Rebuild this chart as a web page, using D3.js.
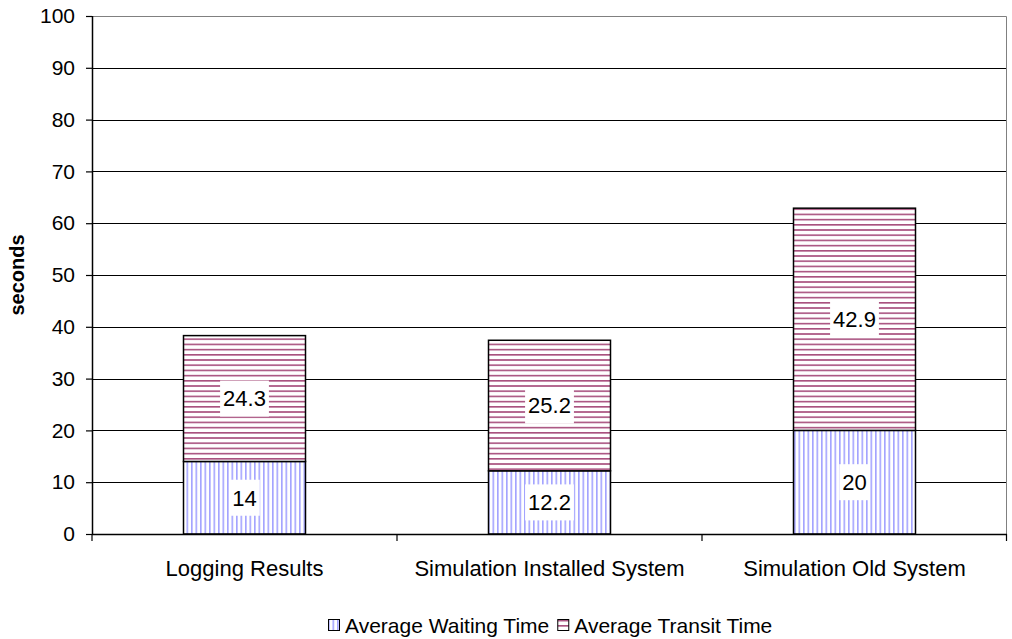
<!DOCTYPE html>
<html>
<head>
<meta charset="utf-8">
<script src="https://cdn.jsdelivr.net/npm/d3@7/dist/d3.min.js"></script>
<style>
  html, body { margin: 0; padding: 0; background: #fff; }
  svg { display: block; font-family: "Liberation Sans", Arial, sans-serif; }
</style>
</head>
<body>
<svg id="chart" width="1012" height="639"></svg>
<script>
// Chart data
const categories = ["Logging Results", "Simulation Installed System", "Simulation Old System"];
const waitingTime = [14, 12.2, 20];
const transitTime = [24.3, 25.2, 42.9];
const seriesNames = ["Average Waiting Time", "Average Transit Time"];
const yTicks = [0, 10, 20, 30, 40, 50, 60, 70, 80, 90, 100];

const FONT = "'Liberation Sans', Arial, sans-serif";
const svg = d3.select("#chart");
const margin = { left: 92, right: 5, top: 16, bottom: 105 };
const W = 1012, H = 639;
const plotW = W - margin.left - margin.right;
const plotH = H - margin.top - margin.bottom;

const defs = svg.append("defs");
// Vertical stripes for waiting time
const pv = defs.append("pattern").attr("id", "vstripe")
  .attr("patternUnits", "userSpaceOnUse").attr("width", 4.5).attr("height", 10);
pv.append("rect").attr("width", 4.5).attr("height", 10).attr("fill", "#fff");
pv.append("rect").attr("x", 0).attr("width", 1.6).attr("height", 10).attr("fill", "#a3a3ff");
// Horizontal stripes for transit time
const ph = defs.append("pattern").attr("id", "hstripe")
  .attr("patternUnits", "userSpaceOnUse").attr("width", 10).attr("height", 5.2);
ph.append("rect").attr("width", 10).attr("height", 5.2).attr("fill", "#fff");
ph.append("rect").attr("y", 0).attr("width", 10).attr("height", 1.6).attr("fill", "#a8507e");

const g = svg.append("g").attr("transform", `translate(${margin.left},${margin.top})`);

const x = d3.scaleBand().domain(categories).range([0, plotW]).paddingInner(0).paddingOuter(0);
const y = d3.scaleLinear().domain([0, 100]).range([plotH, 0]);
const barW = x.bandwidth() * 0.4;

// Gridlines
g.append("g").selectAll("line").data(yTicks.filter(t => t > 0 && t < 100)).join("line")
  .attr("x1", 0).attr("x2", plotW)
  .attr("y1", d => Math.round(y(d)) + 0.5).attr("y2", d => Math.round(y(d)) + 0.5)
  .attr("stroke", "#000").attr("stroke-width", 1);

// Plot border (top and right)
g.append("path")
  .attr("d", `M0,${Math.round(y(100)) + 0.5}H${plotW - 0.5}V${plotH}`)
  .attr("fill", "none").attr("stroke", "#808080").attr("stroke-width", 1);

// Stacked data
const stacks = categories.map((c, i) => ({
  cat: c,
  segs: [
    { key: 0, y0: 0, y1: waitingTime[i], v: waitingTime[i] },
    { key: 1, y0: waitingTime[i], y1: waitingTime[i] + transitTime[i], v: transitTime[i] }
  ]
}));
const fills = ["url(#vstripe)", "url(#hstripe)"];

const barG = g.append("g");
stacks.forEach(s => {
  const bx = x(s.cat) + (x.bandwidth() - barW) / 2;
  s.segs.forEach(sg => {
    barG.append("rect")
      .attr("x", bx).attr("width", barW)
      .attr("y", y(sg.y1)).attr("height", y(sg.y0) - y(sg.y1))
      .attr("fill", fills[sg.key]).attr("stroke", "#000").attr("stroke-width", 1.5);
  });
});

// Value labels
const lblG = g.append("g");
stacks.forEach(s => {
  const cx = x(s.cat) + x.bandwidth() / 2;
  s.segs.forEach(sg => {
    const cy = (y(sg.y0) + y(sg.y1)) / 2;
    const t = lblG.append("text")
      .attr("x", cx).attr("y", cy).attr("dy", "0.36em")
      .attr("text-anchor", "middle").attr("font-size", 22).attr("fill", "#000")
      .text(sg.v);
    const bb = t.node().getBBox();
    lblG.insert("rect", "text")
      .attr("x", bb.x - 3).attr("width", bb.width + 6)
      .attr("y", cy - 18).attr("height", 36)
      .attr("fill", "#fff");
  });
});

// Y axis
const yAxis = g.append("g").call(d3.axisLeft(y).tickValues(yTicks).tickSize(6).tickPadding(11).tickFormat(d3.format("d")));
yAxis.select(".domain").attr("stroke", "#000").attr("stroke-width", 1.5).attr("d", `M0.5,0V${plotH}`);
yAxis.selectAll(".tick line").attr("stroke", "#000").attr("stroke-width", 1.2);
yAxis.selectAll(".tick text").attr("font-size", 21).attr("fill", "#000").attr("font-family", FONT);

// X axis
const xAxis = g.append("g").attr("transform", `translate(0,${plotH})`);
xAxis.append("line").attr("x1", 0).attr("x2", plotW).attr("y1", 0.5).attr("y2", 0.5)
  .attr("stroke", "#000").attr("stroke-width", 1.5);
const bounds = categories.map(c => x(c)).concat([plotW]);
xAxis.selectAll("line.tk").data(bounds).join("line").attr("class", "tk")
  .attr("x1", d => Math.min(d, plotW - 0.5)).attr("x2", d => Math.min(d, plotW - 0.5))
  .attr("y1", 0).attr("y2", 7).attr("stroke", "#000").attr("stroke-width", 1.2);
xAxis.selectAll("text").data(categories).join("text")
  .attr("x", d => x(d) + x.bandwidth() / 2).attr("y", 42)
  .attr("text-anchor", "middle").attr("font-size", 22).attr("fill", "#000")
  .text(d => d);

// Y axis title
svg.append("text")
  .attr("transform", `translate(24,${margin.top + plotH / 2}) rotate(-90)`)
  .attr("text-anchor", "middle").attr("font-size", 20).attr("font-weight", "bold")
  .text("seconds");

// Legend
const legend = svg.append("g").attr("transform", "translate(328,625)");
let lx = 0;
seriesNames.forEach((name, i) => {
  const it = legend.append("g").attr("transform", `translate(${lx},0)`);
  it.append("rect").attr("x", 0.5).attr("y", -5.5).attr("width", 11).attr("height", 11)
    .attr("fill", fills[i]).attr("stroke", "#000").attr("stroke-width", 1);
  const t = it.append("text").attr("x", 17).attr("y", 0).attr("dy", "0.36em")
    .attr("font-size", 21).attr("fill", "#000").text(name);
  lx += 17 + t.node().getComputedTextLength() + 8;
});
</script>
</body>
</html>
